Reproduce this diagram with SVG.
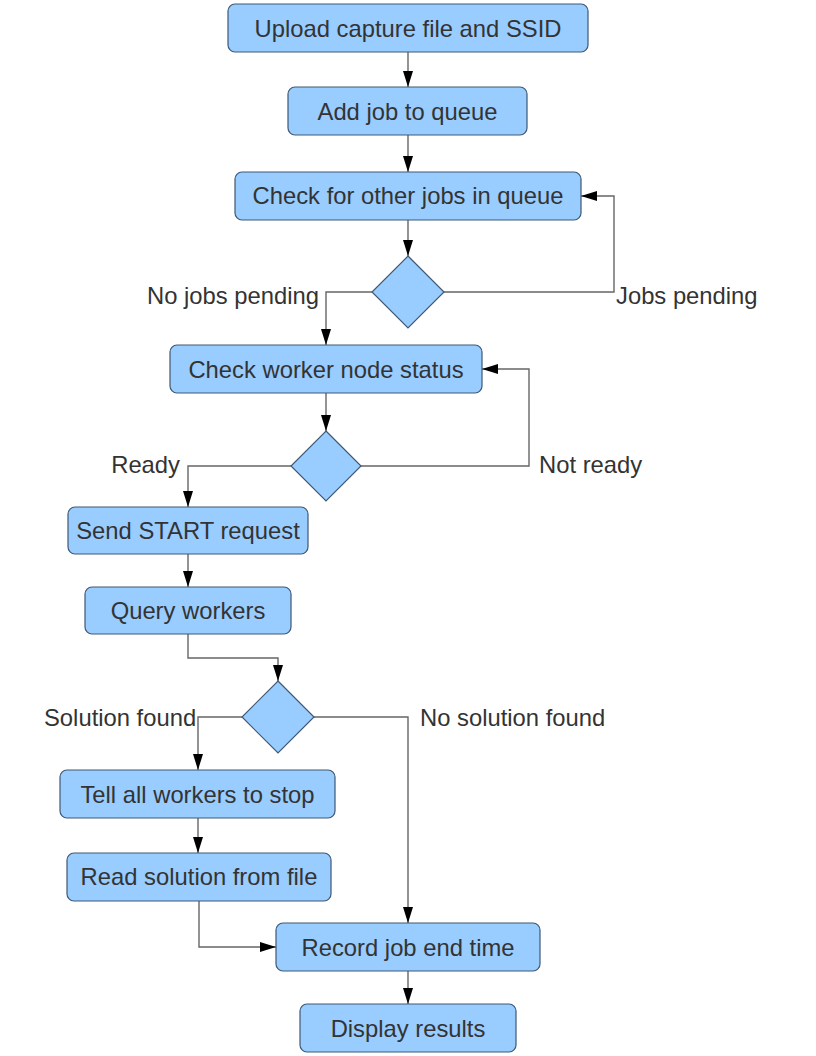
<svg xmlns="http://www.w3.org/2000/svg" width="816" height="1056" viewBox="0 0 816 1056">
<style>
.box{fill:#99ccff;stroke:#3f5873;stroke-width:1.2}
.t{font-family:"Liberation Sans",Arial,sans-serif;font-size:23.8px;fill:#333333}
.c{text-anchor:middle}
.e{text-anchor:end}
.ln{fill:none;stroke:#666666;stroke-width:1.4}
</style>
<defs>
<marker id="ah" markerUnits="userSpaceOnUse" markerWidth="16" markerHeight="10" refX="16" refY="5" orient="auto">
<path d="M0,0 L16,5 L0,10 z" fill="#000000"/>
</marker>
</defs>
<rect width="816" height="1056" fill="#ffffff"/>
<g id="connectors">
<path class="ln" marker-end="url(#ah)" d="M408,52 V87"/>
<path class="ln" marker-end="url(#ah)" d="M408,135 V172"/>
<path class="ln" marker-end="url(#ah)" d="M408,220 V256"/>
<path class="ln" marker-end="url(#ah)" d="M444,292 H614 V196 H581"/>
<path class="ln" marker-end="url(#ah)" d="M372,292 H326 V345"/>
<path class="ln" marker-end="url(#ah)" d="M326,393 V431"/>
<path class="ln" marker-end="url(#ah)" d="M361,466 H529 V369 H482"/>
<path class="ln" marker-end="url(#ah)" d="M291,466 H188 V507"/>
<path class="ln" marker-end="url(#ah)" d="M188,554 V587"/>
<path class="ln" marker-end="url(#ah)" d="M188,634 V658 H278 V681"/>
<path class="ln" marker-end="url(#ah)" d="M242,717 H198 V770"/>
<path class="ln" marker-end="url(#ah)" d="M314,717 H408 V923"/>
<path class="ln" marker-end="url(#ah)" d="M198,818 V853"/>
<path class="ln" marker-end="url(#ah)" d="M199,901 V947 H276"/>
<path class="ln" marker-end="url(#ah)" d="M408,971 V1004"/>
<text class="t e" x="319" y="304">No jobs pending</text>
<text class="t" x="616" y="304">Jobs pending</text>
<text class="t e" x="180" y="473">Ready</text>
<text class="t" x="539" y="473">Not ready</text>
<text class="t" x="44" y="726">Solution found</text>
<text class="t" x="420" y="726">No solution found</text>
</g>
<g id="upload"><rect class="box" x="228" y="4" width="360" height="48" rx="7"/><text class="t c" x="408" y="36.5">Upload capture file and SSID</text></g>
<g id="addjob"><rect class="box" x="288" y="87" width="239" height="48" rx="7"/><text class="t c" x="407.5" y="119.5">Add job to queue</text></g>
<g id="checkjobs"><rect class="box" x="235" y="172" width="346" height="48" rx="7"/><text class="t c" x="408" y="204">Check for other jobs in queue</text></g>
<g id="decision1"><path class="box" d="M408,256 L444,292 L408,328 L372,292 Z"/></g>
<g id="checkworker"><rect class="box" x="170" y="345" width="312" height="48" rx="7"/><text class="t c" x="326" y="377.5">Check worker node status</text></g>
<g id="decision2"><path class="box" d="M326,431 L361,466 L326,501 L291,466 Z"/></g>
<g id="sendstart"><rect class="box" x="68" y="507" width="240" height="47" rx="7"/><text class="t c" x="188" y="539">Send START request</text></g>
<g id="query"><rect class="box" x="85" y="587" width="206" height="47" rx="7"/><text class="t c" x="188" y="619">Query workers</text></g>
<g id="decision3"><path class="box" d="M278,681 L314,717 L278,753 L242,717 Z"/></g>
<g id="tellstop"><rect class="box" x="60" y="770" width="275" height="48" rx="7"/><text class="t c" x="197.5" y="802.5">Tell all workers to stop</text></g>
<g id="readsol"><rect class="box" x="67" y="853" width="264" height="48" rx="7"/><text class="t c" x="199" y="885">Read solution from file</text></g>
<g id="record"><rect class="box" x="276" y="923" width="264" height="48" rx="7"/><text class="t c" x="408" y="955.5">Record job end time</text></g>
<g id="display"><rect class="box" x="300" y="1004" width="216" height="48" rx="7"/><text class="t c" x="408" y="1036.5">Display results</text></g>
</svg>
